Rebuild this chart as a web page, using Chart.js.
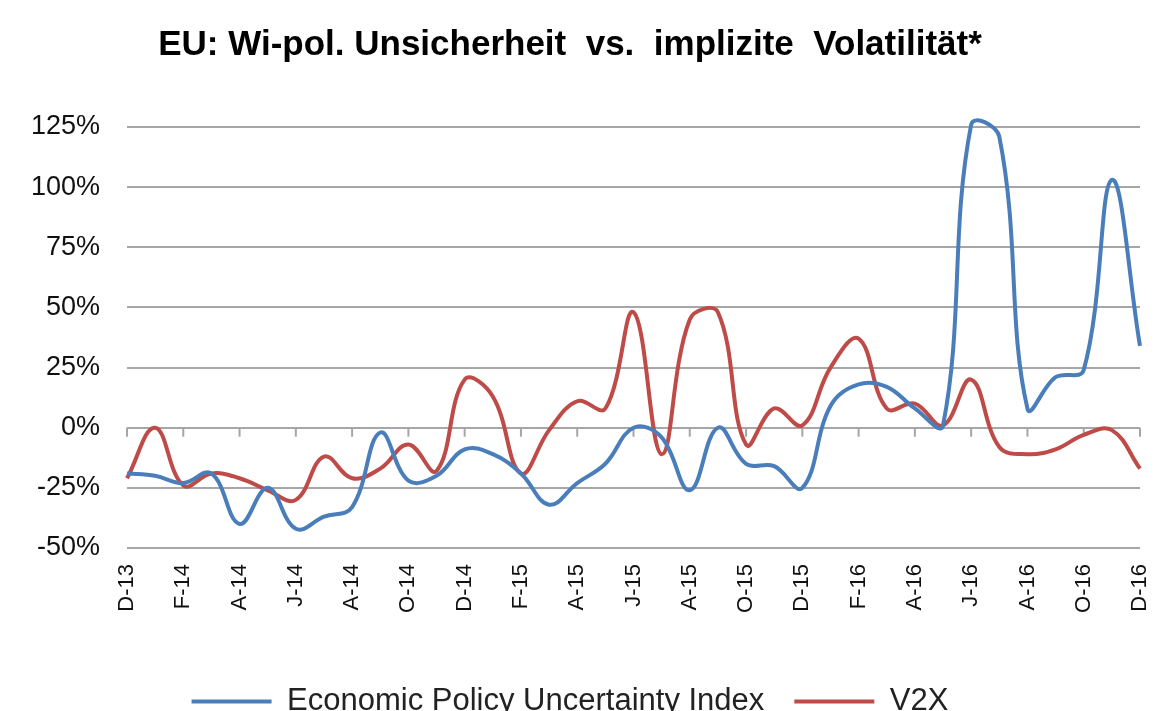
<!DOCTYPE html>
<html>
<head>
<meta charset="utf-8">
<script src="https://cdn.jsdelivr.net/npm/chart.js@4.4.1/dist/chart.umd.min.js"></script>
<style>
    html, body { margin: 0; padding: 0; background: #fff; }
    #wrap { width: 1163px; height: 711px; }
</style>
</head>
<body>
<div id="wrap"><canvas id="vola"></canvas></div>
<script>
// Monate Dez 2013 bis Dez 2016
const months = [
    'D-13',
    'J-14', 'F-14', 'M-14', 'A-14', 'M-14', 'J-14', 'J-14', 'A-14', 'S-14', 'O-14', 'N-14', 'D-14',
    'J-15', 'F-15', 'M-15', 'A-15', 'M-15', 'J-15', 'J-15', 'A-15', 'S-15', 'O-15', 'N-15', 'D-15',
    'J-16', 'F-16', 'M-16', 'A-16', 'M-16', 'J-16', 'J-16', 'A-16', 'S-16', 'O-16', 'N-16', 'D-16'
];
// Veränderung in %
const epuValues = [
    -19, -20, -23, -19, -40, -25, -42, -37, -33, -2, -22, -20, -9,
    -11, -19, -32, -23, -15, 0, -4, -26, 0, -15, -16, -25,
    9, 18, 17, 8, 1, 126, 121, 8, 21, 24, 103, 34
];
const v2xValues = [
    -21, 0, -24, -19, -21, -26, -30, -12, -21, -17, -7, -18, 20,
    13, -19, -1, 11, 8, 48, -11, 45, 48, -7, 8, 1,
    25, 37, 8, 10, 1, 20, -8, -11, -9, -3, -1, -17
];
const yTicks = [-50, -25, 0, 25, 50, 75, 100, 125];

const fontFam = '"Liberation Sans", Arial, sans-serif';
const gridGray = '#a6a6a6';

// kleine Striche an der Nulllinie, alle 2 Monate
const zeroTicks = {
    id: 'zeroTicks',
    beforeDatasetsDraw(chart) {
        const xs = chart.scales.x, ys = chart.scales.y;
        const y0 = ys.getPixelForValue(0);
        const ctx = chart.ctx;
        ctx.save();
        ctx.strokeStyle = gridGray;
        ctx.lineWidth = 2;
        for (let i = 0; i < months.length; i += 2) {
            const px = xs.getPixelForValue(i);
            ctx.beginPath();
            ctx.moveTo(px, y0);
            ctx.lineTo(px, y0 + 9);
            ctx.stroke();
        }
        ctx.restore();
    }
};

const ctx = document.getElementById('vola').getContext('2d');
new Chart(ctx, {
    type: 'line',
    data: {
        labels: months,
        datasets: [{
            label: 'Economic Policy Uncertainty Index',
            data: epuValues,
            borderColor: '#4a7ebb',
            backgroundColor: '#4a7ebb',
            borderWidth: 4,
            pointRadius: 0,
            tension: 0.4,
            clip: 10
        }, {
            label: 'V2X',
            data: v2xValues,
            borderColor: '#be4b48',
            backgroundColor: '#be4b48',
            borderWidth: 4,
            pointRadius: 0,
            tension: 0.4,
            clip: 10
        }]
    },
    options: {
        responsive: true,
        maintainAspectRatio: false,
        animation: false,
        layout: { padding: { left: 0, right: 23, top: 0, bottom: -16 } },
        plugins: {
            title: {
                display: true,
                text: 'EU: Wi-pol. Unsicherheit  vs.  implizite  Volatilität*',
                color: '#000',
                font: { family: fontFam, size: 35, weight: 'bold' },
                padding: { top: 24, bottom: 61 }
            },
            legend: {
                position: 'bottom',
                labels: {
                    color: '#222',
                    font: { family: fontFam, size: 31 },
                    usePointStyle: true,
                    pointStyle: 'line',
                    pointStyleWidth: 80,
                    padding: 30
                }
            },
            tooltip: { enabled: false }
        },
        scales: {
            x: {
                grid: { display: false },
                border: { display: false },
                ticks: {
                    autoSkip: false,
                    minRotation: 90,
                    maxRotation: 90,
                    padding: 8,
                    color: '#111',
                    font: { family: fontFam, size: 22 },
                    callback: function(val, i) {
                        return i % 2 === 0 ? months[i] : null;
                    }
                },
                afterFit: function(scale) {
                    scale.height = 108;
                    scale.paddingLeft = 0;
                    scale.paddingRight = 0;
                }
            },
            y: {
                min: -50,
                max: 125,
                afterBuildTicks: function(scale) {
                    scale.ticks = yTicks.map(v => ({ value: v }));
                },
                grid: { color: gridGray, lineWidth: 2, drawTicks: false },
                border: { display: false },
                ticks: {
                    padding: 27,
                    color: '#111',
                    font: { family: fontFam, size: 27 },
                    callback: function(value) { return value + '%'; }
                },
                afterFit: function(scale) { scale.width = 127; }
            }
        }
    },
    plugins: [zeroTicks]
});
</script>
</body>
</html>
